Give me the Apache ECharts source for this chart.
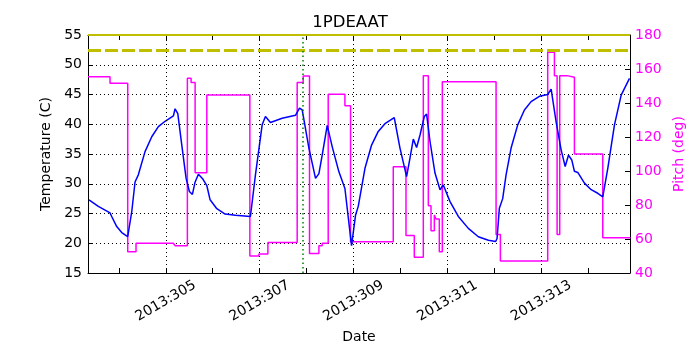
<!DOCTYPE html>
<html>
<head>
<meta charset="utf-8">
<script src="https://cdn.jsdelivr.net/npm/echarts@6/dist/echarts.min.js"></script>
<style>
html, body { margin: 0; padding: 0; background: #fff; }
#main { width: 700px; height: 350px; }
</style>
</head>
<body>
<div id="main"></div>
<script>
/**************** data (day of year 2013) ****************/
var tempDays = [303.364, 303.563, 303.812, 303.848, 303.955, 304.062, 304.189, 304.275, 304.345, 304.415,
	304.558, 304.701, 304.842, 304.985, 305.162, 305.198, 305.256, 305.341, 305.433, 305.503,
	305.567, 305.625, 305.695, 305.780, 305.874, 305.944, 306.087, 306.264, 306.484, 306.803,
	306.910, 307.053, 307.123, 307.230, 307.479, 307.763, 307.848, 307.906, 308.049, 308.190,
	308.262, 308.332, 308.439, 308.546, 308.688, 308.816, 308.957, 309.042, 309.100, 309.243,
	309.384, 309.526, 309.669, 309.867, 309.989, 310.130, 310.202, 310.273, 310.343, 310.416,
	310.507, 310.556, 310.629, 310.735, 310.842, 310.912, 311.055, 311.232, 311.445, 311.658,
	311.872, 312.027, 312.057, 312.106, 312.177, 312.249, 312.356, 312.497, 312.640, 312.782,
	312.959, 313.136, 313.209, 313.315, 313.422, 313.508, 313.578, 313.648, 313.705, 313.776,
	313.919, 314.062, 314.202, 314.309, 314.416, 314.558, 314.701, 314.878];
var tempValues = [27.3, 26.2, 25.1, 24.5, 22.8, 21.8, 21.1, 25.3, 30.3, 31.5,
	35.4, 37.9, 39.6, 40.5, 41.4, 42.6, 41.8, 36.5, 30.9, 28.7,
	28.2, 30.3, 31.6, 30.9, 29.7, 27.3, 25.8, 24.9, 24.7, 24.5,
	31.5, 39.9, 41.3, 40.3, 41.0, 41.5, 42.7, 42.4, 36.0, 30.9,
	31.7, 34.8, 39.8, 36.2, 32.0, 29.2, 19.6, 24.7, 26.2, 32.6,
	36.5, 38.8, 40.1, 41.1, 36.0, 31.2, 34.3, 37.5, 36.1, 38.2,
	41.3, 41.7, 37.1, 31.8, 29.0, 29.8, 27.0, 24.5, 22.5, 21.1,
	20.5, 20.3, 20.8, 25.9, 27.5, 31.5, 36.0, 39.9, 42.4, 43.8,
	44.7, 45.0, 45.9, 40.4, 35.7, 32.9, 34.8, 34.0, 32.1, 31.9,
	30.1, 29.0, 28.4, 27.8, 32.6, 39.9, 44.9, 47.7];

// pitch holds each value until the next day in the list
var pitchDays = [303.343, 303.812, 304.189, 304.366, 305.162, 305.198, 305.460, 305.539, 305.625, 305.874,
	306.791, 306.983, 307.175, 307.799, 307.927, 308.062, 308.262, 308.332, 308.460, 308.816,
	308.936, 309.846, 310.117, 310.294, 310.486, 310.593, 310.650, 310.721, 310.757, 310.827,
	310.891, 312.036, 312.128, 313.136, 313.279, 313.336, 313.392, 313.550, 313.705, 314.309,
	314.899];
var pitchValues = [155.5, 151.6, 52.5, 57.5, 58.5, 56.1, 154.5, 152.0, 99.0, 144.7,
	50.0, 51.2, 58.0, 152.0, 155.9, 51.4, 56.1, 57.5, 145.1, 138.4,
	58.4, 102.5, 62.0, 49.2, 156.1, 79.6, 64.9, 74.1, 71.8, 52.5,
	152.5, 62.7, 47.0, 169.8, 156.1, 62.7, 156.1, 155.1, 110.0, 60.8,
	60.8];

var dayTicks = [304, 305, 306, 307, 308, 309, 310, 311, 312, 313, 314];
var dayLabels = [305, 307, 309, 311, 313];
var limitTemp = 52.4;
var topLimitTemp = 55;
var markerDay = 307.92;
var xMin = 303.343, xMax = 314.889;
/**************** data ****************/

function toPairs(xs, ys) {
	var out = [];
	for (var i = 0; i < xs.length; i++) {
		out.push([xs[i], ys[i]]);
	}
	return out;
}

var font = 'DejaVu Sans';
var black = '#000';
var magenta = '#ff00ff';

var myChart = echarts.init(document.getElementById('main'), null, { renderer: 'canvas' });
var option = {
	animation: false,
	backgroundColor: '#fff',
	title: {
		text: '1PDEAAT',
		left: 'center',
		top: 14,
		padding: 0,
		textStyle: { fontFamily: font, fontSize: 16.5, fontWeight: 'normal', color: black }
	},
	grid: { left: 88, right: 70, top: 35, bottom: 77 },
	xAxis: [{
		type: 'value',
		position: 'bottom',
		min: xMin,
		max: xMax,
		name: 'Date',
		nameLocation: 'middle',
		nameGap: 50,
		nameTextStyle: { fontFamily: font, fontSize: 14, color: black },
		axisLine: { onZero: false, lineStyle: { color: black, width: 1 } },
		axisTick: { inside: true, length: 5, customValues: dayTicks, lineStyle: { color: black } },
		axisLabel: {
			customValues: dayLabels,
			rotate: 30,
			align: 'center',
			verticalAlign: 'middle',
			margin: 28,
			fontFamily: font,
			fontSize: 14,
			color: black,
			formatter: function(v) { return '2013:' + v; }
		},
		splitLine: { show: false }
	}, {
		type: 'value',
		position: 'top',
		min: xMin,
		max: xMax,
		axisLine: { onZero: false, lineStyle: { color: black, width: 1 } },
		axisTick: { inside: true, length: 5, customValues: dayTicks, lineStyle: { color: black } },
		axisLabel: { show: false },
		splitLine: { show: false }
	}],
	yAxis: [{
		type: 'value',
		position: 'left',
		min: 15,
		max: 55,
		interval: 5,
		name: 'Temperature (C)',
		nameLocation: 'middle',
		nameRotate: 90,
		nameGap: 30,
		nameTextStyle: { fontFamily: font, fontSize: 14, color: black },
		axisLine: { show: true, lineStyle: { color: black, width: 1 } },
		axisTick: { show: true, inside: true, length: 5, lineStyle: { color: black } },
		axisLabel: { margin: 6, fontFamily: font, fontSize: 14, color: black },
		splitLine: { show: true, lineStyle: { color: black, width: 1, type: [1, 3] } }
	}, {
		type: 'value',
		position: 'right',
		min: 40,
		max: 180,
		interval: 20,
		name: 'Pitch (deg)',
		nameLocation: 'middle',
		nameRotate: 90,
		nameGap: 38,
		nameTextStyle: { fontFamily: font, fontSize: 14, color: magenta },
		axisLine: { show: true, lineStyle: { color: black, width: 1 } },
		axisTick: { show: true, inside: true, length: 5, lineStyle: { color: black } },
		axisLabel: { margin: 5, fontFamily: font, fontSize: 14, color: magenta },
		splitLine: { show: false }
	}],
	series: [{
		// vertical grid lines at the labelled days
		name: 'grid',
		type: 'line',
		xAxisIndex: 0,
		yAxisIndex: 0,
		z: 1,
		silent: true,
		showSymbol: false,
		data: [[xMin, 15]],
		lineStyle: { opacity: 0 },
		markLine: {
			silent: true,
			symbol: ['none', 'none'],
			label: { show: false },
			lineStyle: { color: black, width: 1, type: [1, 3] },
			data: dayLabels.map(function(d) { return { xAxis: d }; })
		}
	}, {
		name: 'Pitch',
		type: 'line',
		xAxisIndex: 0,
		yAxisIndex: 1,
		step: 'end',
		showSymbol: false,
		z: 3,
		lineStyle: { color: magenta, width: 1.5 },
		itemStyle: { color: magenta },
		data: toPairs(pitchDays, pitchValues)
	}, {
		name: 'Temperature',
		type: 'line',
		xAxisIndex: 0,
		yAxisIndex: 0,
		showSymbol: false,
		z: 4,
		lineStyle: { color: '#0000ff', width: 1.5 },
		itemStyle: { color: '#0000ff' },
		data: toPairs(tempDays, tempValues),
		markLine: {
			silent: true,
			symbol: ['none', 'none'],
			label: { show: false },
			data: [
				{ yAxis: limitTemp, lineStyle: { color: '#bfbf00', width: 3, type: [13, 4] } },
				{ yAxis: topLimitTemp, lineStyle: { color: '#bfbf00', width: 2, type: 'solid' } },
				{ xAxis: markerDay, lineStyle: { color: '#008000', width: 1.5, type: [1.5, 3] } }
			]
		}
	}]
};
myChart.setOption(option);
</script>
</body>
</html>
